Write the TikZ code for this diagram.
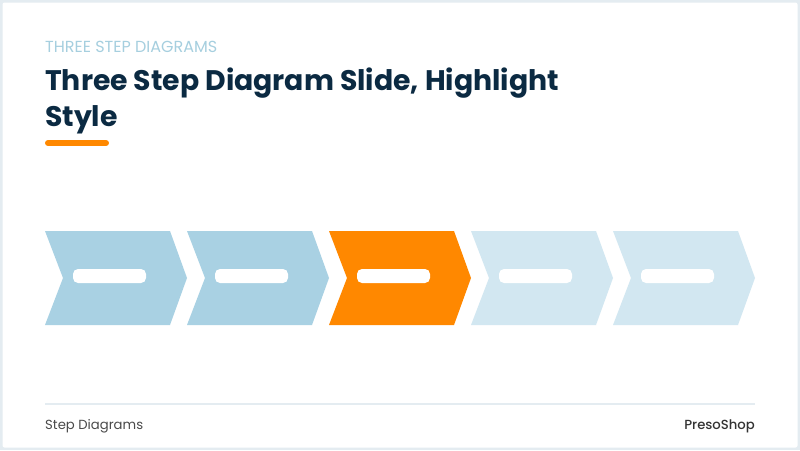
\documentclass[tikz,border=0pt]{standalone}
\usepackage{fontspec}
\setmainfont{Poppins}
\newfontfamily\brandfont{Poppins Medium}

\definecolor{framegray}{HTML}{E4ECF1}
\definecolor{stepblue}{HTML}{A9D1E3}
\definecolor{steplight}{HTML}{D2E7F1}
\definecolor{steporange}{HTML}{FF8800}
\definecolor{navy}{HTML}{0B2A42}
\definecolor{kicker}{HTML}{A6CFDF}
\definecolor{footgray}{HTML}{4A4A4A}

\tikzset{
  pill/.style={rectangle,fill=white,rounded corners=5pt,
    minimum width=73pt,minimum height=14pt,inner sep=0pt},
  slidetext/.style={inner sep=0pt,anchor=base west}
}

\begin{document}
\begin{tikzpicture}[x=1pt,y=-1pt]

        \useasboundingbox (0,0) rectangle (800,450);
        \fill[framegray] (0,0) rectangle (800,450);
        \fill[white,rounded corners=2pt] (2.5,2.5) rectangle (797.5,447.5);

        % heading
        \node[slidetext,text=kicker,font=\fontsize{16}{19}\selectfont] (kicker) at (45,52) {THREE STEP DIAGRAMS};
        \node[slidetext,text=navy,font=\fontsize{28.3}{34}\selectfont\bfseries] (title) at (45,90) {Three Step Diagram Slide, Highlight};
        \node[slidetext,text=navy,font=\fontsize{28.3}{34}\selectfont\bfseries] (title2) at (45,126.5) {Style};
        \draw[steporange,line width=6pt,line cap=round] (48,143) -- (106,143);

        % steps
        \foreach \x/\col [count=\i] in {45/stepblue,187/stepblue,329/steporange,471/steplight,613/steplight} {
          \fill[\col] (\x,231) -- ++(125,0) -- ++(17,47) -- ++(-17,47) -- ++(-125,0) -- ++(18,-47) -- cycle;
          \node[pill] (pill\i) at (\x+64.5,276) {};
        }

        % footer
        \draw[framegray,line width=1.5pt] (45,404) -- (755,404);
        \node[slidetext,text=footgray,font=\fontsize{13.2}{16}\selectfont] (foot) at (45,429) {Step Diagrams};
        \node[slidetext,anchor=base east,text=black!80,font=\fontsize{13.2}{16}\selectfont\brandfont] (brand) at (755,429) {PresoShop};

      \end{tikzpicture}
\end{document}
